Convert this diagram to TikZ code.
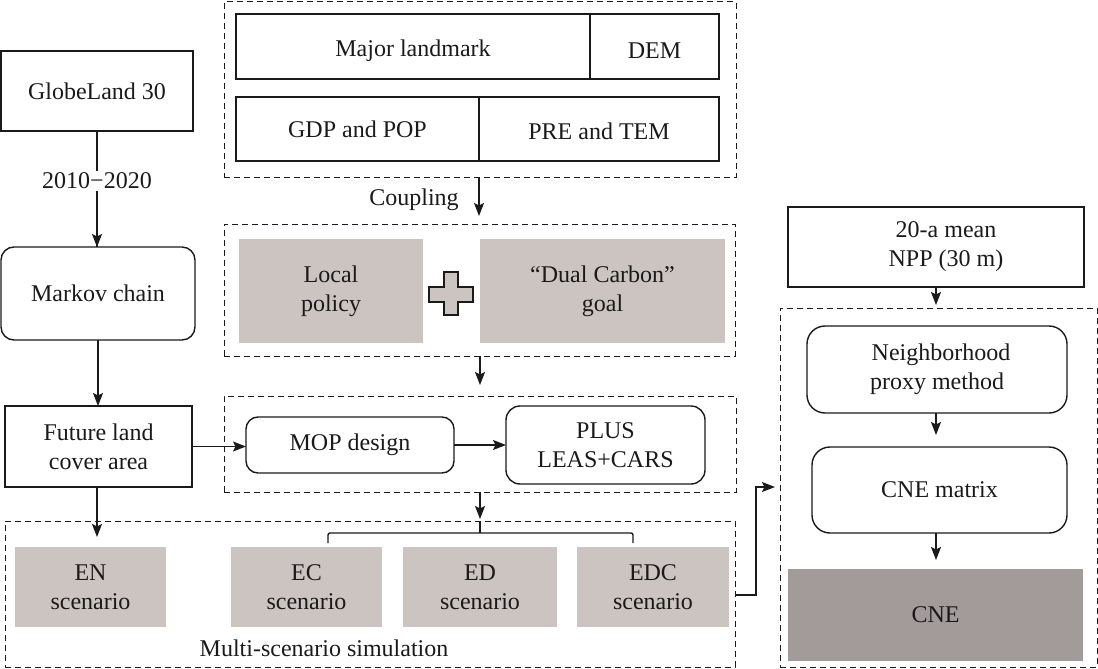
\documentclass[tikz,border=0pt]{standalone}
\usepackage{fontspec}
\setmainfont{Liberation Serif}
\usetikzlibrary{arrows.meta}
\definecolor{lgray}{HTML}{CBC4C1}
\definecolor{dgray}{HTML}{A29B99}
\definecolor{ink}{HTML}{1A1A1A}
\newcommand{\lowertext}[2]{\raisebox{-#1}[\height][\depth]{#2}}
\begin{document}
\begin{tikzpicture}[x=1pt,y=-1pt,
  every node/.style={font=\fontsize{24}{29}\selectfont, text=ink, inner sep=0pt, outer sep=0pt, align=center},
  solidbox/.style={draw=ink, line width=1.4pt, anchor=north west},
  roundbox/.style={solidbox, rounded corners=13pt},
  graybox/.style={fill=lgray, anchor=north west},
  dashbox/.style={draw=ink, line width=1pt, dash pattern=on 6pt off 4pt, anchor=north west},
  arr/.style={draw=ink, line width=1.4pt, -{Stealth[length=13pt,width=10pt,inset=2.5pt]}},
  conn/.style={draw=ink, line width=1.4pt}
]
\useasboundingbox (0,0) rectangle (1098,669);

% ---------- left column ----------
\node[solidbox, minimum width=192pt, minimum height=80pt] (glob) at (1,51) {GlobeLand 30};
\node[roundbox, minimum width=194pt, minimum height=93pt] (markov) at (1,247) {Markov chain};
\node[solidbox, minimum width=187pt, minimum height=81pt] (future) at (5,406) {Future land\\cover area};

% ---------- top dashed group ----------
\node[dashbox, minimum width=512pt, minimum height=175pt] (topgrp) at (224,2) {};
\node[solidbox, minimum width=354pt, minimum height=65pt] (major) at (236,14) {\lowertext{4pt}{Major landmark}};
\node[solidbox, minimum width=129pt, minimum height=65pt] (dem) at (590,14) {\lowertext{4pt}{DEM}};
\node[solidbox, minimum width=243pt, minimum height=64pt] (gdp) at (236,97) {GDP and POP};
\node[solidbox, minimum width=240pt, minimum height=64pt] (pre) at (479,97) {\lowertext{2pt}{PRE and TEM}};

% ---------- policy group ----------
\node[dashbox, minimum width=511pt, minimum height=132pt] (polgrp) at (224,224) {};
\node[graybox, minimum width=184pt, minimum height=104pt] (local) at (239,239) {Local\\policy};
\node[graybox, minimum width=245pt, minimum height=104pt] (dual) at (480,239) {“Dual Carbon”\\goal};
\draw[draw=ink, fill=lgray, line width=1.5pt]
  (444,272) -- (458,272) -- (458,287) -- (473,287) -- (473,302) -- (458,302) -- (458,315)
  -- (444,315) -- (444,302) -- (429,302) -- (429,287) -- (444,287) -- cycle;

% ---------- model group ----------
\node[dashbox, minimum width=512pt, minimum height=96pt] (modgrp) at (224,396) {};
\node[roundbox, rounded corners=12pt, minimum width=208pt, minimum height=56pt] (mop) at (246,417) {MOP design};
\node[roundbox, rounded corners=14pt, minimum width=199pt, minimum height=78pt] (plus) at (506,406) {PLUS\\LEAS+CARS};

% ---------- scenario group ----------
\node[dashbox, minimum width=730pt, minimum height=146pt] (scengrp) at (5,521) {};
\node[graybox, minimum width=151pt, minimum height=80pt] (en) at (15,547) {EN\\scenario};
\node[graybox, minimum width=151pt, minimum height=80pt] (ec) at (231,547) {EC\\scenario};
\node[graybox, minimum width=154pt, minimum height=80pt] (ed) at (403,547) {ED\\scenario};
\node[graybox, minimum width=152pt, minimum height=80pt] (edc) at (577,547) {EDC\\scenario};
\node (multi) at (324,648) {Multi-scenario simulation};

% ---------- right column ----------
\node[solidbox, minimum width=296pt, minimum height=80pt] (npp) at (788,207) {\hspace*{20pt}20-a mean\\\hspace*{20pt}NPP (30 m)};
\node[dashbox, minimum width=317pt, minimum height=359pt] (rightgrp) at (780,308) {};
\node[roundbox, rounded corners=18pt, minimum width=260pt, minimum height=87pt] (neigh) at (807,326) {\hspace*{8pt}Neighborhood\\proxy method};
\node[roundbox, rounded corners=18pt, minimum width=255pt, minimum height=86pt] (cnem) at (812,447) {CNE matrix};
\node[fill=dgray, anchor=north west, minimum width=295pt, minimum height=92pt] (cne) at (788,569) {CNE};

% ---------- connectors ----------
\draw[conn] (glob.south -| 97,0) -- (markov.north -| 97,0);
\draw[arr] (97,200) -- (markov.north -| 97,0);
\node[fill=white, inner sep=2pt] (years) at (97,181) {2010−2020};

\draw[arr] (markov.south -| 98,0) -- (future.north -| 98,0);
\draw[arr] (future.east) -- (future.east -| mop.west);
\draw[arr] (mop.east) -- (mop.east -| plus.west);

\coordinate (coupTip) at (479,216);
\draw[arr] (topgrp.south -| coupTip) -- (coupTip);
\node (coupling) at (414,200) {Coupling};

\coordinate (polTip) at (480,385);
\draw[arr] (polgrp.south -| polTip) -- (polTip);

\coordinate (modTip) at (480,519);
\draw[arr] (modgrp.south -| modTip) -- (modTip);
\draw[conn, rounded corners=2pt] (328,543) -- (328,533) -- (633,533) -- (633,543);
\draw[conn] (scengrp.north -| modTip) -- (480,533);

\coordinate (enTip) at (97,537);
\draw[arr] (future.south -| enTip) -- (enTip);

\coordinate (sideTip) at (775,487);
\draw[arr] (scengrp.east |- 0,595) -- (756,595) -- (756,487) -- (sideTip);

\draw[arr, shorten >=21pt] (npp.south -| 936,0) -- (neigh.north -| 936,0);
\draw[arr, shorten >=12pt] (neigh.south -| 936,0) -- (cnem.north -| 936,0);
\draw[arr, shorten >=9pt] (cnem.south -| 936,0) -- (cne.north -| 936,0);
\end{tikzpicture}
\end{document}
